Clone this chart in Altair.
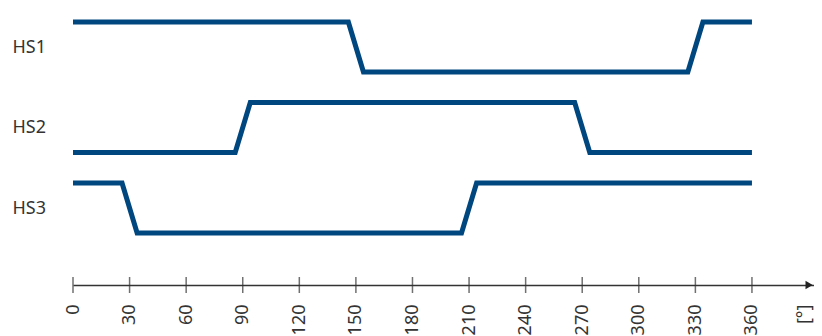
import altair as alt
import pandas as pd

# ---- data ----
signals = ["HS1", "HS2", "HS3"]
start_levels = [1, 0, 1]              # level at 0°
edges = [[150, 330], [90, 270], [30, 210]]  # switching angles (deg)
tick_values = [0, 30, 60, 90, 120, 150, 180, 210, 240, 270, 300, 330, 360]
unit_label = "[°]"
unit_pos = 387.6
x_max = 392.9
arrow_pos = 390.3

# ---- geometry / style ----
RAMP = 4.0
SPACING = 1.61
Y_MIN, Y_MAX = -1.04, 4.5
COLOR = "#00467f"
TXT = "#333333"
FONT = "Noto Sans"
FS = 18

rows = []
n = len(signals)
mid_vals = []
for i, (name, lvl, tr) in enumerate(zip(signals, start_levels, edges)):
    off = (n - 1 - i) * SPACING
    mid_vals.append(off + 0.5)
    level = lvl
    k = 0
    rows.append({"sig": name, "deg": 0, "y": level + off, "k": k}); k += 1
    for t in tr:
        rows.append({"sig": name, "deg": t - RAMP, "y": level + off, "k": k}); k += 1
        level = 1 - level
        rows.append({"sig": name, "deg": t + RAMP, "y": level + off, "k": k}); k += 1
    rows.append({"sig": name, "deg": 360, "y": level + off, "k": k})
df = pd.DataFrame(rows)

label_expr = " : ".join(
    [f"abs(datum.value - {v}) < 0.01 ? '{s}'" for v, s in zip(mid_vals, signals)]
) + " : ''"

xscale = alt.Scale(domain=[0, x_max], nice=False, zero=False)
yscale = alt.Scale(domain=[Y_MIN, Y_MAX], nice=False, zero=False)

x_axis = alt.Axis(
    values=tick_values + [unit_pos],
    labelExpr=f"datum.value > 360 ? '{unit_label}' : datum.label",
    labelAngle=270, labelAlign="right", labelBaseline="middle",
    labelPadding=19, ticks=False, tickSize=0, grid=False,
    domainColor=TXT, domainWidth=1.5, labelFont=FONT, labelFontSize=FS,
    labelColor=TXT, title=None, labelOverlap=False, labelBound=False, labelFlush=False,
)
y_axis = alt.Axis(
    values=mid_vals, labelExpr=label_expr, labelAlign="left", labelBaseline="middle",
    labelPadding=61, ticks=False, tickSize=0, domain=False, grid=False,
    labelFont=FONT, labelFontSize=FS, labelColor=TXT, title=None,
)

lines = alt.Chart(df).mark_line(
    color=COLOR, strokeWidth=5, strokeJoin="miter", strokeCap="butt"
).encode(
    x=alt.X("deg:Q", scale=xscale, axis=x_axis),
    y=alt.Y("y:Q", scale=yscale, axis=y_axis),
    detail="sig:N",
    order="k:Q",
)

tdf = pd.DataFrame({"deg": tick_values, "y": [Y_MIN] * len(tick_values)})
ticks = alt.Chart(tdf).mark_tick(
    orient="vertical", color=TXT, size=16, thickness=1.5
).encode(
    x=alt.X("deg:Q", scale=xscale),
    y=alt.Y("y:Q", scale=yscale),
)

adf = pd.DataFrame({"deg": [arrow_pos], "y": [Y_MIN]})
arrow = alt.Chart(adf).mark_point(
    shape="triangle-right", filled=True, color="#222222", size=70, opacity=1
).encode(
    x=alt.X("deg:Q", scale=xscale),
    y=alt.Y("y:Q", scale=yscale),
)

chart = alt.layer(lines, ticks, arrow).properties(
    width=741, height=277,
    autosize=alt.AutoSizeParams(type="none"),
    padding={"left": 65, "top": 0, "right": 0, "bottom": 51},
).configure_view(stroke=None)

chart.save("out.html", embed_options={"renderer": "svg", "actions": False})
